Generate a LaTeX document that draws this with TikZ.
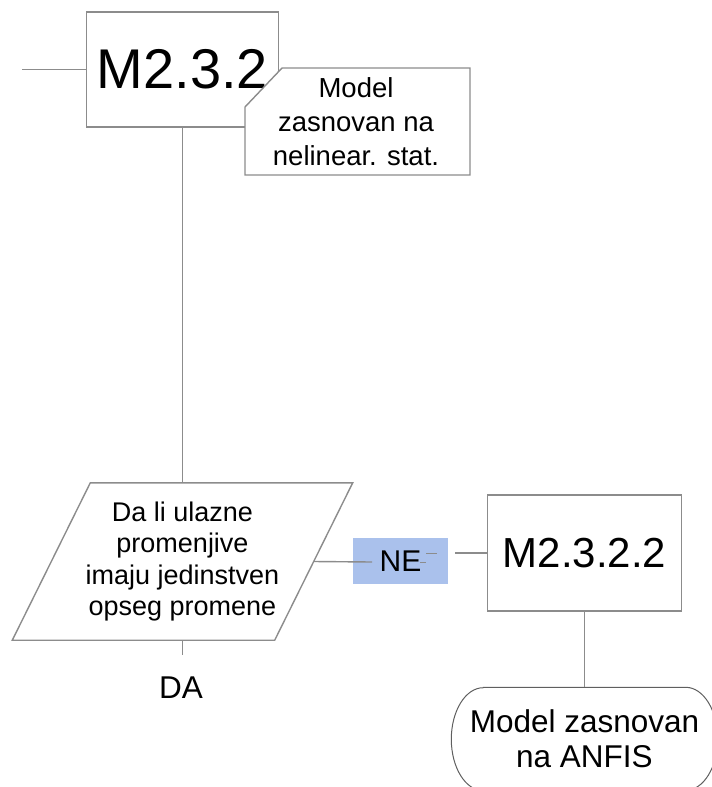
\documentclass[tikz,border=0pt]{standalone}
\usepackage{fontspec}
\setmainfont{Liberation Sans}
\definecolor{edge}{RGB}{140,140,140}
\definecolor{outline}{RGB}{95,95,95}
\definecolor{nefill}{RGB}{170,193,236}
\begin{document}
\begin{tikzpicture}[x=1pt,y=-1pt,
  box/.style={draw=edge, line width=1.4pt, fill=white, inner sep=0pt},
  conn/.style={draw=edge, line width=1.4pt},
  thinconn/.style={draw=edge, line width=1pt},
  txt/.style={align=center, text=black, inner sep=0pt}]
\useasboundingbox (0,0) rectangle (712,787);

% process box M2.3.2 with its incoming line
\node[box, minimum width=192pt, minimum height=115pt,
      font=\fontsize{56}{62}\selectfont] (m232) at (182.5,69.5) {M2.3.2};
\coordinate (in) at (22,69.5);
\draw[conn] (in) -- (m232.west);

% annotation with a cut corner
\draw[box] (282,68) -- (470,68) -- (470,175) -- (245,175) -- (245,107) -- cycle;
\node[txt, font=\fontsize{27.5}{34}\selectfont] (note) at (356,122)
  {Model\\zasnovan na\\nelinear. stat.};

% decision (parallelogram)
\node[txt, minimum width=262pt, minimum height=157pt,
      font=\fontsize{27}{31.5}\selectfont] (q) at (182.5,561.5)
  {Da li ulazne\\promenjive\\imaju jedinstven\\opseg promene};
\draw[edge, line width=1.4pt]
  ([xshift=39pt]q.north west) -- ([xshift=39pt]q.north east)
  -- ([xshift=-39pt]q.south east) -- ([xshift=-39pt]q.south west) -- cycle;
\draw[conn] (m232.south) -- (q.north);

% DA branch
\coordinate (tick) at (182.5,655);
\draw[thinconn] (q.south) -- (tick);
\node[txt, font=\fontsize{31.5}{36}\selectfont] (da) at (181,688) {DA};

% NE branch
\node[fill=nefill, minimum width=95pt, minimum height=46pt, inner sep=0pt,
      font=\fontsize{30}{36}\selectfont] (ne) at (400.5,561) {NE};
\coordinate (ne-in) at (372,562);
\draw[conn] (q.east) -- (ne-in);
\coordinate (j1) at (420,562);
\coordinate (j2) at (426,562);
\coordinate (j3) at (426,553);
\coordinate (j4) at (437,553);
\draw[thinconn] (j1) -- (j2);
\draw[thinconn] (j3) -- (j4);
\coordinate (ne-out) at (455,553);

\node[box, minimum width=194pt, minimum height=116pt,
      font=\fontsize{42}{48}\selectfont] (m2322) at (584.5,553) {M2.3.2.2};
\draw[conn] (ne-out) -- (m2322.west);

% terminal
\node[txt, minimum width=266pt, minimum height=103pt,
      font=\fontsize{31.5}{35}\selectfont] (term) at (584.5,739)
  {Model zasnovan\\na ANFIS};
\draw[outline, line width=1pt]
  ([xshift=32pt]term.north west) -- ([xshift=-32pt]term.north east)
  arc[start angle=-90, end angle=90, x radius=32, y radius=51.5]
  -- ([xshift=32pt]term.south west)
  arc[start angle=90, end angle=270, x radius=32, y radius=51.5] -- cycle;
\draw[conn] (m2322.south) -- (term.north);
\end{tikzpicture}
\end{document}
